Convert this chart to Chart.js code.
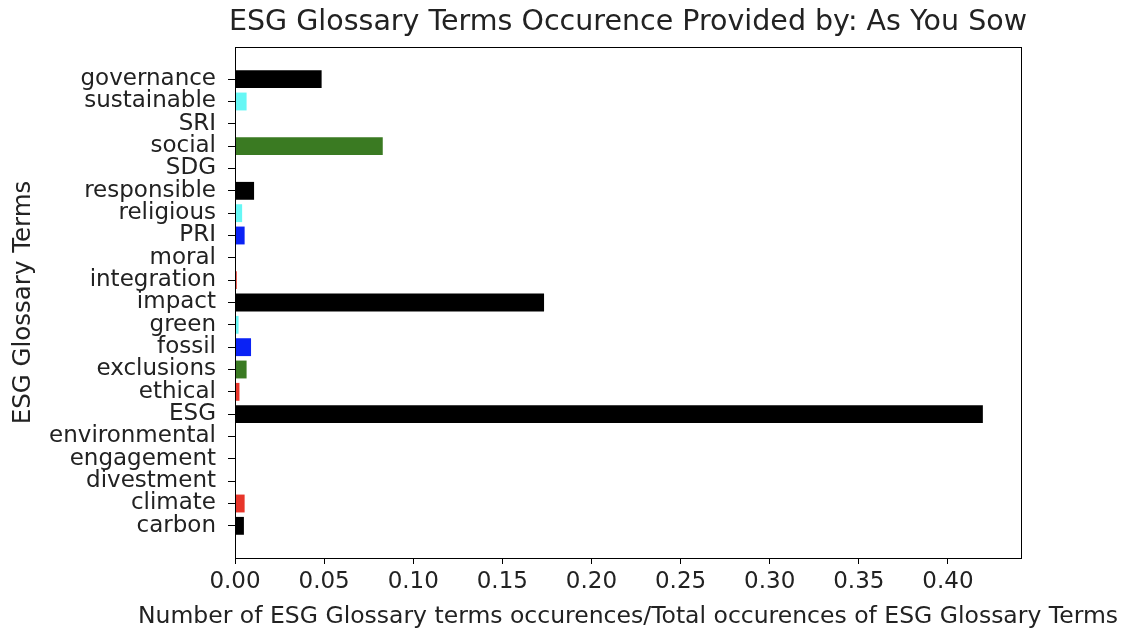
<!DOCTYPE html>
<html>
<head>
<meta charset="utf-8">
<script src="https://cdn.jsdelivr.net/npm/chart.js@4"></script>
<style>
  html, body { margin: 0; padding: 0; background: #fff; }
  #wrap { width: 1126px; height: 634px; }
</style>
</head>
<body>
<div id="wrap"><canvas id="myChart" width="1126" height="634"></canvas></div>
<script>
// terms, bottom to top (as matplotlib barh draws them)
const terms = ["carbon", "climate", "divestment", "engagement", "environmental", "ESG",
  "ethical", "exclusions", "fossil", "green", "impact", "integration", "moral", "PRI",
  "religious", "responsible", "SDG", "social", "SRI", "sustainable", "governance"];

// share of occurences
const shares = [0.005, 0.0054, 0, 0, 0, 0.4196,
  0.0025, 0.0065, 0.009, 0.002, 0.1734, 0.001, 0.0005, 0.0054,
  0.004, 0.0107, 0, 0.0829, 0, 0.0065, 0.0486];

const xTicks = [0, 0.05, 0.1, 0.15, 0.2, 0.25, 0.3, 0.35, 0.4];

const chartTitle = "ESG Glossary Terms Occurence Provided by: As You Sow";
const xLabel = "Number of ESG Glossary terms occurences/Total occurences of ESG Glossary Terms";
const yLabel = "ESG Glossary Terms";

// matplotlib colour cycle 'krgbc'
const cycle = ["#000000", "#e8352a", "#3a7a22", "#0a22f5", "#66f7f5"];

const font = "'DejaVu Sans', sans-serif";
const txt = "#222";

// spines box + title and x label (these run wider than the plot, chart.js would squeeze them)
const frame = {
  id: "frame",
  afterDraw(chart) {
    const a = chart.chartArea, c = chart.ctx;
    const mid = (a.left + a.right) / 2;
    c.save();
    c.strokeStyle = "#000";
    c.lineWidth = 1;
    c.strokeRect(Math.round(a.left) + 0.5, Math.round(a.top) + 0.5,
      Math.round(a.right - a.left), Math.round(a.bottom - a.top));
    c.fillStyle = txt;
    c.textAlign = "center";
    c.textBaseline = "middle";
    c.font = "28.5px " + font;
    c.fillText(chartTitle, mid, 23);
    c.font = "23.5px " + font;
    c.fillText(xLabel, mid, 617);
    c.restore();
  }
};

const config = {
  type: "bar",
  data: {
    datasets: [{
      data: terms.map((t, i) => ({ x: shares[i], y: i })),
      backgroundColor: terms.map((t, i) => cycle[i % cycle.length]),
      borderWidth: 0,
      barPercentage: 0.8,
      categoryPercentage: 1
    }]
  },
  plugins: [frame],
  options: {
    indexAxis: "y",
    responsive: false,
    animation: false,
    layout: { padding: { top: 47, right: 105, left: 0, bottom: 0 } },
    plugins: {
      legend: { display: false },
      tooltip: { enabled: false },
      title: { display: false }
    },
    scales: {
      x: {
        type: "linear",
        min: 0,
        max: 0.441,
        bounds: "data",
        offset: false,
        afterBuildTicks: (s) => { s.ticks = xTicks.map((v) => ({ value: v })); },
        afterFit: (s) => { s.height = 76; },
        ticks: {
          color: txt,
          font: { family: font, size: 23 },
          padding: 4,
          maxRotation: 0,
          callback: (v) => Number(v).toFixed(2)
        },
        grid: { drawOnChartArea: false, drawTicks: true, tickLength: 6, color: "#000", offset: false },
        border: { display: true, color: "#000" }
      },
      y: {
        type: "linear",
        min: -1.44,
        max: 21.44,
        bounds: "data",
        offset: false,
        afterBuildTicks: (s) => { s.ticks = terms.map((t, i) => ({ value: i })); },
        afterFit: (s) => { s.width = 235; },
        ticks: {
          color: txt,
          font: { family: font, size: 23 },
          padding: 12,
          autoSkip: false,
          callback: (v) => terms[v]
        },
        grid: { drawOnChartArea: false, drawTicks: true, tickLength: 7, color: "#000", offset: false },
        border: { display: true, color: "#000" },
        title: {
          display: true,
          text: yLabel,
          color: txt,
          font: { family: font, size: 24.5 },
          padding: { top: 9, bottom: 0 }
        }
      }
    }
  }
};

const ctx = document.getElementById("myChart");
const myChart = new Chart(ctx, config);
</script>
</body>
</html>
